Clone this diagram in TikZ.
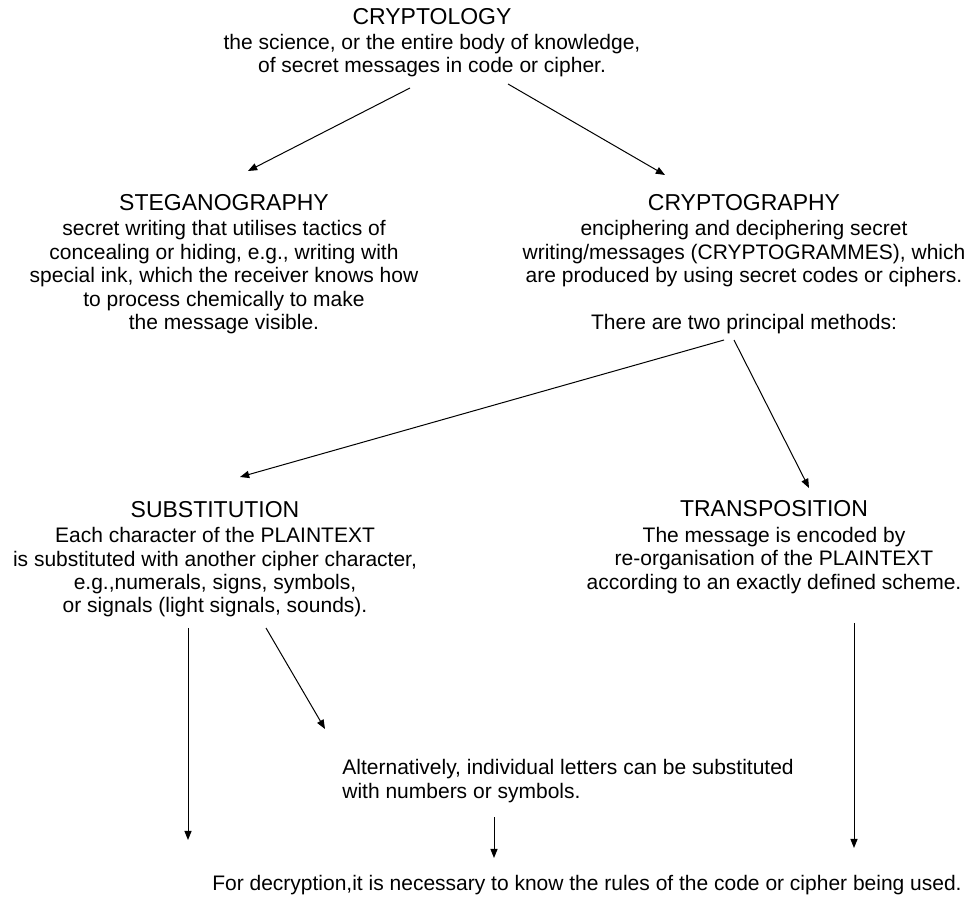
\documentclass[tikz,border=0pt]{standalone}
\usepackage{fontspec}
\setmainfont{Liberation Sans}
\usetikzlibrary{arrows.meta}
\newcommand{\hdfont}{\fontsize{11.5}{12.5}\selectfont}
\tikzset{
  blk/.style={align=center, inner sep=0pt, anchor=base, font=\fontsize{10.5}{11.75}\selectfont},
  leftblk/.style={blk, align=left, anchor=base west},
  arr/.style={-{Triangle[length=4.6pt,width=3.6pt]}, line width=0.5pt, black},
}
\begin{document}
\begin{tikzpicture}[x=0.5pt,y=-0.5pt]
        \useasboundingbox (0,0) rectangle (970,898);
        % blocks (anchored at the baseline of their last line)
        \node[blk] (cryptology) at (432,73) {{\hdfont CRYPTOLOGY}\\[0.75pt]the science, or the entire body of knowledge,\\of secret messages in code or cipher.};
        \node[blk] (stegano) at (224,330) {{\hdfont STEGANOGRAPHY}\\[0.75pt]secret writing that utilises tactics of\\concealing or hiding, e.g., writing with\\special ink, which the receiver knows how\\to process chemically to make\\the message visible.};
        \node[blk] (cryptography) at (744,283) {{\hdfont CRYPTOGRAPHY}\\[0.75pt]enciphering and deciphering secret\\writing/messages (CRYPTOGRAMMES), which\\are produced by using secret codes or ciphers.};
        \node[blk] (methods) at (744,330) {There are two principal methods:};
        \node[blk] (subst) at (215,613) {{\hdfont SUBSTITUTION}\\[0.75pt]Each character of the PLAINTEXT\\is substituted with another cipher character,\\e.g.,numerals, signs, symbols,\\or signals (light signals, sounds).};
        \node[blk] (transp) at (774,589) {{\hdfont TRANSPOSITION}\\[0.75pt]The message is encoded by\\re-organisation of the PLAINTEXT\\according to an exactly defined scheme.};
        \node[leftblk] (altern) at (342,798) {Alternatively, individual letters can be substituted\\with numbers or symbols.};
        \node[blk] (decrypt) at (587,890) {For decryption,it is necessary to know the rules of the code or cipher being used.};
        % arrow ends
        \coordinate (c1) at (410,88);  \coordinate (c1e) at (248,171);
        \coordinate (c2) at (508,84);  \coordinate (c2e) at (665,175);
        \coordinate (m1) at (724,340); \coordinate (m1e) at (240,477);
        \coordinate (m2) at (734,340); \coordinate (m2e) at (809,488);
        \coordinate (s1) at (188,628); \coordinate (s1e) at (188,840);
        \coordinate (s2) at (266,628); \coordinate (s2e) at (325,729);
        \coordinate (a1) at (494,817); \coordinate (a1e) at (494,858);
        \coordinate (t1) at (854,623); \coordinate (t1e) at (854,848);
        \foreach \from/\to in {c1/c1e, c2/c2e, m1/m1e, m2/m2e, s1/s1e, s2/s2e, a1/a1e, t1/t1e}
          \draw[arr] (\from) -- (\to);
      \end{tikzpicture}
\end{document}
